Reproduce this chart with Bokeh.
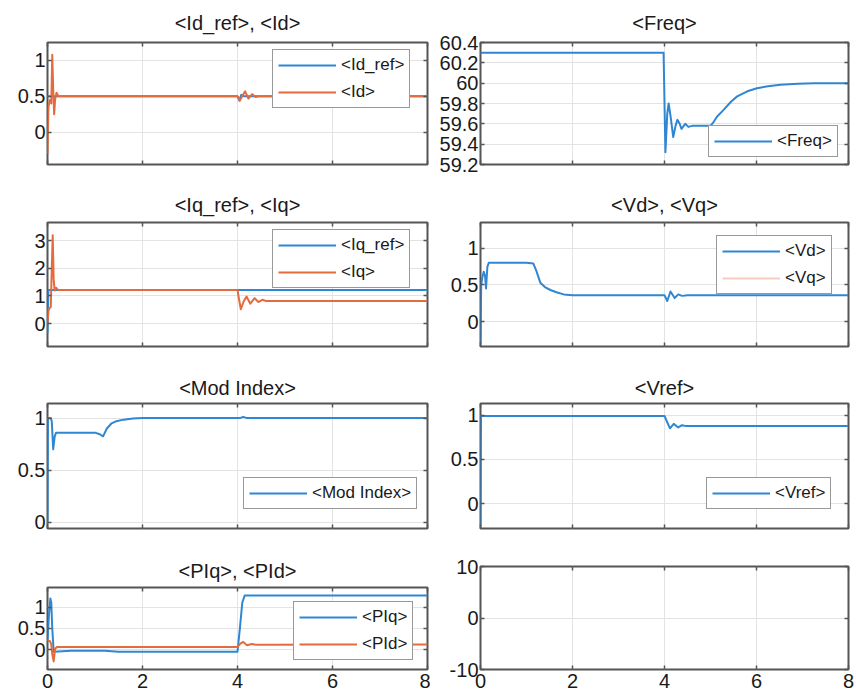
from bokeh.plotting import figure
from bokeh.layouts import column, row
from bokeh.models import (Range1d, FixedTicker, NumeralTickFormatter, LinearAxis,
                          Legend, LegendItem)
from bokeh.embed import file_html
from bokeh.resources import INLINE

NAN = float("nan")

# ---------------- data ----------------
x_ticks = [0, 2, 4, 6, 8]

id_ref_t = [0, 0.02, 4.0, 4.04, 4.08, 4.14, 4.2, 8]
id_ref_v = [0.5, 0.5, 0.5, 0.44, 0.52, 0.5, 0.5, 0.5]
id_t = [0, 0.02, 0.05, 0.08, 0.1, 0.12, 0.14, 0.16, 0.19, 0.23, 4.0, 4.05, 4.16, 4.23, 4.31, 4.38, 4.45, 8]
id_v = [-0.3, 0.35, 0.45, 0.4, 1.08, 0.6, 0.25, 0.45, 0.55, 0.5, 0.5, 0.44, 0.57, 0.47, 0.53, 0.49, 0.5, 0.5]

freq_t = [0, 3.98, 4.02, 4.06, 4.09, 4.13, 4.19, 4.24, 4.28, 4.33, 4.37, 4.45, 4.52, 4.6, 5.0, 5.07,
          5.14, 5.29, 5.45, 5.58, 5.8, 6.01, 6.25, 6.52, 6.9, 7.25, 8]
freq_v = [60.3, 60.3, 59.32, 59.7, 59.8, 59.68, 59.47, 59.58, 59.64, 59.6, 59.55, 59.6, 59.57, 59.58,
          59.58, 59.62, 59.67, 59.74, 59.82, 59.87, 59.92, 59.95, 59.97, 59.985, 59.995, 60.0, 60.0]

iq_ref_t = [0, 0.02, 8]
iq_ref_v = [-0.35, 1.22, 1.22]
iq_t = [0, 0.02, 0.04, 0.07, 0.09, 0.11, 0.13, 0.15, 0.18, 0.22, 4.0, 4.03, 4.07, 4.13, 4.19,
        4.27, 4.36, 4.44, 4.52, 4.6, 8]
iq_v = [0.0, 0.45, 0.55, 0.6, 2.0, 3.2, 1.6, 1.2, 1.3, 1.22, 1.22, 0.9, 0.52, 0.8, 0.98,
        0.72, 0.92, 0.78, 0.86, 0.82, 0.82]

vd_t = [0, 0.015, 0.04, 0.07, 0.1, 0.12, 0.15, 0.18, 1.0, 1.15, 1.22, 1.3, 1.4, 1.52, 1.65,
        1.81, 2.0, 4.0, 4.06, 4.13, 4.22, 4.3, 4.38, 4.5, 8]
vd_v = [-0.3, 0.5, 0.6, 0.68, 0.62, 0.45, 0.75, 0.8, 0.8, 0.79, 0.68, 0.53, 0.47, 0.43, 0.4,
        0.37, 0.36, 0.36, 0.28, 0.41, 0.32, 0.37, 0.35, 0.36, 0.36]
# <Vq> is listed in the legend but no trace of it is visible in the plot area
vq_t = [0, 8]
vq_v = [NAN, NAN]

mod_t = [0, 0.01, 0.07, 0.09, 0.12, 0.15, 0.18, 0.5, 1.0, 1.1, 1.17, 1.25, 1.35, 1.45, 1.6,
         1.8, 2.0, 4.05, 4.12, 4.2, 8]
mod_v = [0, 1.0, 1.0, 0.97, 0.7, 0.82, 0.86, 0.86, 0.86, 0.845, 0.825, 0.9, 0.95, 0.97, 0.985,
         0.995, 1.0, 1.0, 1.012, 1.0, 1.0]

vref_t = [0, 0.01, 4.0, 4.05, 4.12, 4.2, 4.3, 4.38, 4.47, 8]
vref_v = [-0.25, 0.99, 0.99, 0.93, 0.85, 0.9, 0.86, 0.885, 0.875, 0.875]

piq_t = [0, 0.03, 0.06, 0.08, 0.1, 0.13, 0.5, 1.2, 1.5, 4.0, 4.05, 4.1, 4.15, 8]
piq_v = [0.2, 0.8, 1.2, 1.1, 0.5, -0.05, -0.03, -0.03, -0.05, -0.05, 0.5, 1.1, 1.27, 1.27]
pid_t = [0, 0.05, 0.08, 0.1, 0.13, 0.16, 0.2, 4.0, 4.06, 4.12, 4.2, 4.3, 4.4, 8]
pid_v = [0.2, 0.2, 0.12, -0.1, -0.28, 0.02, 0.06, 0.06, 0.14, 0.18, 0.1, 0.13, 0.11, 0.12]

# ---------------- style ----------------
BLUE = "#2f87d3"
ORANGE = "#e36c3e"
PALE = "#f6cdbf"
FONT = "Liberation Sans"
FRAME = "#555555"
GRID = "#e3e3e3"
TXT = "#1a1a1a"

LW, RW = 430, 426


def style_ticks(ax):
    ax.axis_line_color = None
    ax.major_tick_in = 4
    ax.major_tick_out = 0
    ax.major_tick_line_color = FRAME
    ax.major_tick_line_width = 1.5
    ax.minor_tick_in = 4
    ax.minor_tick_out = 0
    ax.minor_tick_line_color = FRAME
    ax.minor_tick_line_width = 1.5


def make_fig(width, height, borders, yr, yticks, title, standoff, xlabels):
    kw = dict(width=width, height=height, output_backend="svg", toolbar_location=None,
              x_range=Range1d(0, 8), y_range=Range1d(*yr),
              min_border_left=borders[0], min_border_right=borders[1],
              min_border_top=borders[2], min_border_bottom=borders[3])
    if not title:
        kw["title"] = None
    p = figure(**kw)
    if title:
        p.title.text = title
        p.title.align = "center"
        p.title.text_font = FONT
        p.title.text_font_size = "20px"
        p.title.text_font_style = "normal"
        p.title.text_color = TXT
        p.title.standoff = standoff
    p.outline_line_color = FRAME
    p.outline_line_width = 2
    p.background_fill_color = "white"
    p.border_fill_color = "white"
    fmt = NumeralTickFormatter(format="0.[0]")

    xa, ya = p.xaxis[0], p.yaxis[0]
    style_ticks(xa)
    style_ticks(ya)
    ya.ticker = FixedTicker(ticks=yticks)
    if xlabels:
        xa.ticker = FixedTicker(ticks=x_ticks)
    else:
        xa.ticker = FixedTicker(ticks=[], minor_ticks=x_ticks)
        xa.major_label_standoff = 0
    for ax in (xa, ya):
        ax.formatter = fmt
        ax.major_label_text_font = FONT
        ax.major_label_text_font_size = "20px"
        ax.major_label_text_color = TXT
    ya.major_label_standoff = 2
    if xlabels:
        xa.major_label_standoff = 4
    p.xgrid[0].ticker = FixedTicker(ticks=x_ticks)
    p.ygrid[0].ticker = FixedTicker(ticks=yticks)
    p.xgrid.grid_line_color = GRID
    p.ygrid.grid_line_color = GRID
    for loc, tk in (("above", x_ticks), ("right", yticks)):
        ax = LinearAxis(ticker=FixedTicker(ticks=[], minor_ticks=tk), major_label_standoff=0)
        style_ticks(ax)
        p.add_layout(ax, loc)
    return p


def add_legend(p, items, loc):
    lg = Legend(items=[LegendItem(label=l, renderers=[r]) for l, r in items], location=loc)
    lg.border_line_color = "#333333"
    lg.border_line_width = 1.5
    lg.background_fill_color = "white"
    lg.background_fill_alpha = 1
    lg.label_text_font = FONT
    lg.label_text_font_size = "17px"
    lg.label_text_color = TXT
    lg.label_text_align = "left"
    lg.glyph_width = 58
    lg.glyph_height = 20
    lg.label_height = 20
    lg.label_standoff = 5
    lg.padding = 5
    lg.spacing = 7
    lg.margin = 0
    p.add_layout(lg)


def line(p, t, v, color):
    return p.line(t, v, line_color=color, line_width=2, line_join="round")


# Row 1  (frames 42-164)
p1 = make_fig(LW, 176, (47, 3, 42, 12), (-0.45, 1.25), [0, 0.5, 1], "<Id_ref>, <Id>", 17, False)
r1a = line(p1, id_ref_t, id_ref_v, BLUE)
r1b = line(p1, id_t, id_v, ORANGE)
add_legend(p1, [("<Id_ref>", r1a), ("<Id>", r1b)], (225, 56))

p2 = make_fig(RW, 176, (50, 8, 42, 12), (59.2, 60.4), [59.2, 59.4, 59.6, 59.8, 60, 60.2, 60.4],
              "<Freq>", 17, False)
r2 = line(p2, freq_t, freq_v, BLUE)
add_legend(p2, [("<Freq>", r2)], (228, 7))

# Row 2  (frames 222-346)
p3 = make_fig(LW, 174, (47, 3, 46, 4), (-0.83, 3.66), [0, 1, 2, 3], "<Iq_ref>, <Iq>", 13, False)
r3a = line(p3, iq_ref_t, iq_ref_v, BLUE)
r3b = line(p3, iq_t, iq_v, ORANGE)
add_legend(p3, [("<Iq_ref>", r3a), ("<Iq>", r3b)], (225, 58))

p4 = make_fig(RW, 174, (50, 8, 46, 4), (-0.34, 1.35), [0, 0.5, 1], "<Vd>, <Vq>", 13, False)
r4b = line(p4, vq_t, vq_v, PALE)
r4a = line(p4, vd_t, vd_v, BLUE)
add_legend(p4, [("<Vd>", r4a), ("<Vq>", r4b)], (236, 52))

# Row 3  (frames 403-528)
p5 = make_fig(LW, 190, (47, 3, 53, 12), (-0.06, 1.14), [0, 0.5, 1], "<Mod Index>", 10, False)
r5 = line(p5, mod_t, mod_v, BLUE)
add_legend(p5, [("<Mod Index>", r5)], (196, 19))

p6 = make_fig(RW, 190, (50, 8, 53, 12), (-0.28, 1.13), [0, 0.5, 1], "<Vref>", 10, False)
r6 = line(p6, vref_t, vref_v, BLUE)
add_legend(p6, [("<Vref>", r6)], (226, 19))

# Row 4  (frames 587-669 / 566-669)
p7 = make_fig(LW, 155, (47, 3, 47, 26), (-0.47, 1.46), [0, 0.5, 1], "<PIq>, <PId>", 12, True)
r7a = line(p7, piq_t, piq_v, BLUE)
r7b = line(p7, pid_t, pid_v, ORANGE)
add_legend(p7, [("<PIq>", r7a), ("<PId>", r7b)], (246, 9))

p8 = make_fig(RW, 155, (50, 8, 26, 26), (-10, 10), [-10, 0, 10], "", 0, True)

layout = column(row(p1, p2, spacing=0), row(p3, p4, spacing=0),
                row(p5, p6, spacing=0), row(column(p7), column(p8), spacing=0), spacing=0)

open("out.html", "w").write(file_html(layout, INLINE))
